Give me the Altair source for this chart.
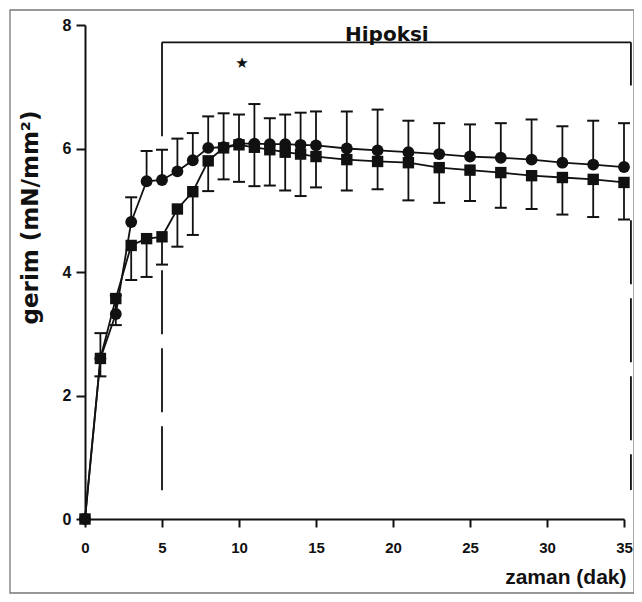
import altair as alt
import pandas as pd

# time points (dak)
dak = [0, 1, 2, 3, 4, 5, 6, 7, 8, 9, 10, 11, 12, 13, 14, 15, 17, 19, 21, 23, 25, 27, 29, 31, 33, 35]

# circle series (mean, upper error)
daire = [0, 2.60, 3.32, 4.81, 5.47, 5.49, 5.63, 5.81, 6.01, 6.02, 6.08, 6.08, 6.07, 6.07, 6.06, 6.05,
         6.00, 5.97, 5.94, 5.91, 5.87, 5.85, 5.82, 5.77, 5.74, 5.70]
daire_hata = [0, 0.41, 0.30, 0.40, 0.49, 0.49, 0.53, 0.44, 0.51, 0.55, 0.47, 0.64, 0.42, 0.48, 0.52, 0.55,
              0.60, 0.66, 0.51, 0.50, 0.52, 0.56, 0.65, 0.59, 0.71, 0.71]

# square series (mean, lower error)
kare = [0, 2.60, 3.57, 4.43, 4.54, 4.57, 5.02, 5.30, 5.80, 6.01, 6.06, 6.02, 5.98, 5.94, 5.91, 5.87,
        5.82, 5.79, 5.77, 5.69, 5.65, 5.61, 5.56, 5.53, 5.50, 5.45]
kare_hata = [0, 0.29, 0.43, 0.56, 0.62, 0.45, 0.61, 0.70, 0.49, 0.51, 0.60, 0.63, 0.58, 0.62, 0.68, 0.50,
             0.50, 0.45, 0.61, 0.57, 0.50, 0.57, 0.54, 0.60, 0.61, 0.60]

x_ticks = [0, 5, 10, 15, 20, 25, 30, 35]
y_ticks = [0, 2, 4, 6, 8]

# annotation: hypoxia bracket and significance star
hipoksi_bas, hipoksi_son, bracket_y = 5, 35.45, 7.72

INK = "#111111"
FONT = "Liberation Sans"
WIDE = "DejaVu Sans"

df_c = pd.DataFrame({"t": dak, "v": daire, "e": daire_hata})
df_c["v2"] = df_c["v"] + df_c["e"]
df_s = pd.DataFrame({"t": dak, "v": kare, "e": kare_hata})
df_s["v2"] = df_s["v"] - df_s["e"]
err_c = df_c[df_c["e"] > 0].copy()
err_s = df_s[df_s["e"] > 0].copy()
cap_c = err_c.assign(v=err_c["v2"])
cap_s = err_s.assign(v=err_s["v2"])

X = alt.X("t:Q", scale=alt.Scale(domain=[0, 35], nice=False, zero=False),
          axis=alt.Axis(values=x_ticks, title="zaman (dak)", grid=False,
                        labelFont=FONT, labelFontSize=15, labelFontWeight="bold", labelColor=INK,
                        labelPadding=13, labelFlush=False,
                        tickSize=8, tickWidth=2, tickColor=INK,
                        domainColor=INK, domainWidth=2,
                        titleFont=FONT, titleFontSize=21, titleFontWeight="bold", titleColor=INK,
                        titleX=541, titleY=58, titleAlign="right", titleBaseline="middle"))
Y = alt.Y("v:Q", scale=alt.Scale(domain=[0, 8], nice=False),
          axis=alt.Axis(values=y_ticks, title="gerim (mN/mm²)", grid=False,
                        labelFont=FONT, labelFontSize=16, labelFontWeight="bold", labelColor=INK,
                        labelPadding=5,
                        tickSize=9, tickWidth=2, tickColor=INK,
                        domainColor=INK, domainWidth=2,
                        titleFont=WIDE, titleFontSize=23, titleFontWeight="bold", titleColor=INK,
                        titleX=-55, titleY=192, titleAlign="center", titleBaseline="middle",
                        titleAngle=270))

# bracket segments
solid = pd.DataFrame({
    "t": [hipoksi_bas, hipoksi_bas, hipoksi_son],
    "t2": [hipoksi_son, hipoksi_bas, hipoksi_son],
    "v": [bracket_y, bracket_y, bracket_y],
    "v2": [bracket_y, 6.2, 7.02],
})
dashed = pd.DataFrame({
    "t": [hipoksi_bas, hipoksi_son],
    "t2": [hipoksi_bas, hipoksi_son],
    "v": [4.03, 4.84],
    "v2": [0.40, 0.47],
})

frame = alt.Chart(pd.DataFrame({"a": [0]})).mark_rect(filled=False, stroke="#777777", strokeWidth=1.3).encode(
    x=alt.value(-75), x2=alt.value(549), y=alt.value(-15), y2=alt.value(568))

solid_l = alt.Chart(solid).mark_rule(color=INK, strokeWidth=1.8).encode(x=X, y=Y, x2="t2:Q", y2="v2:Q")
dashed_l = alt.Chart(dashed).mark_rule(color=INK, strokeWidth=1.8, strokeDash=[64, 14]).encode(
    x=X, y=Y, x2="t2:Q", y2="v2:Q")

hip_text = alt.Chart(pd.DataFrame({"t": [19.6], "v": [bracket_y], "lab": ["Hipoksi"]})).mark_text(
    font=WIDE, fontSize=20, fontWeight="bold", color=INK, baseline="alphabetic", align="center", dy=-1
).encode(x=X, y=Y, text="lab:N")
star = alt.Chart(pd.DataFrame({"t": [10.2], "v": [7.38], "lab": ["★"]})).mark_text(
    font=WIDE, fontSize=15, color=INK, baseline="middle", align="center"
).encode(x=X, y=Y, text="lab:N")

rule_c = alt.Chart(err_c).mark_rule(color=INK, strokeWidth=1.8).encode(x=X, y=Y, y2="v2:Q")
rule_s = alt.Chart(err_s).mark_rule(color=INK, strokeWidth=1.8).encode(x=X, y=Y, y2="v2:Q")
caps_c = alt.Chart(cap_c).mark_tick(orient="horizontal", size=12, thickness=2, color=INK, opacity=1).encode(x=X, y=Y)
caps_s = alt.Chart(cap_s).mark_tick(orient="horizontal", size=12, thickness=2, color=INK, opacity=1).encode(x=X, y=Y)

line_c = alt.Chart(df_c).mark_line(color=INK, strokeWidth=1.8).encode(x=X, y=Y)
line_s = alt.Chart(df_s).mark_line(color=INK, strokeWidth=1.8).encode(x=X, y=Y)
pts_c = alt.Chart(df_c).mark_point(shape="circle", filled=True, size=140, color=INK, opacity=1).encode(x=X, y=Y)
pts_s = alt.Chart(df_s).mark_point(shape="square", filled=True, size=130, color=INK, opacity=1).encode(x=X, y=Y)

chart = alt.layer(
    frame, solid_l, dashed_l, hip_text, star,
    rule_c, rule_s, caps_c, caps_s, line_c, line_s, pts_c, pts_s
).properties(
    width=539, height=494,
    autosize=alt.AutoSizeParams(type="none"),
    padding={"left": 77, "top": 17, "right": 10, "bottom": 75},
    background="white",
).configure_view(strokeWidth=0)

chart.save("out.html", embed_options={"renderer": "svg", "actions": False})
